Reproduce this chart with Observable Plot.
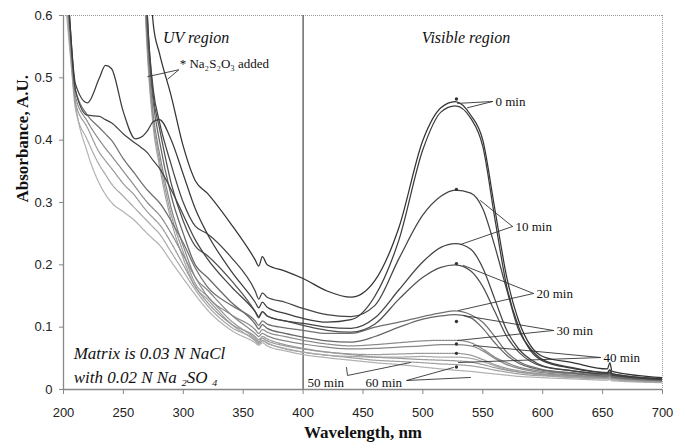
<!DOCTYPE html>
<html><head><meta charset="utf-8">
<script src="https://cdn.jsdelivr.net/npm/d3@7"></script>
<script src="https://cdn.jsdelivr.net/npm/@observablehq/plot@0.6"></script>
<style>body{margin:0;background:#fff}</style>
</head><body><div id="chart"></div>
<script>
const wavelengths = [200,205,210,220,230,235,240,250,260,265,270,275,280,290,300,310,320,340,360,363,366,370,385,400,420,440,460,480,500,515,527,540,550,560,570,580,590,600,625,654,656,658,700];
const N9 = [null,null,null,null,null,null,null,null,null];
// T = with Na2S2O3 added, P = without
const T0  = [...N9, null,.72,.585,.54,.47,.39,.335,.315,.265,.208,.198,.213,.2,.19,.178,.158,.148,.175,.26,.40,.452,.462,.44,.40,.29,.18,.11,.07,.053,.043,.033,.043,.029,.019];
const P0  = [.78,.60,.49,.46,.50,.52,.515,.445,.402,.405,.415,.43,.433,.40,.345,.29,.25,.19,.14,.131,.14,.132,.122,.114,.108,.112,.15,.24,.385,.445,.455,.435,.39,.275,.165,.10,.062,.046,.034,.027,.031,.025,.017];
const T10 = [...N9, .9,.6,.48,.43,.36,.30,.262,.25,.212,.158,.145,.155,.148,.14,.13,.12,.117,.135,.21,.28,.31,.32,.315,.29,.23,.16,.095,.065,.048,.035,.027,.032,.025,.017];
const P10 = [.76,.60,.48,.44,.438,.433,.428,.41,.395,.388,.38,.367,.355,.32,.28,.24,.21,.165,.125,.117,.125,.118,.11,.106,.10,.098,.115,.16,.205,.228,.234,.225,.195,.145,.095,.065,.048,.038,.03,.025,.027,.023,.016];
const T20 = [...N9, .88,.6,.47,.42,.33,.27,.23,.215,.175,.125,.115,.125,.118,.11,.103,.095,.092,.105,.145,.18,.196,.2,.19,.165,.125,.085,.06,.045,.037,.03,.025,.028,.023,.016];
const P20 = [.74,.59,.48,.44,.42,.41,.40,.37,.345,.332,.32,.31,.30,.27,.235,.195,.165,.135,.11,.103,.11,.105,.099,.095,.09,.09,.10,.108,.117,.123,.126,.12,.108,.085,.06,.045,.037,.032,.027,.023,.025,.021,.015];
const T30 = [...N9, .85,.58,.46,.40,.31,.25,.20,.18,.14,.105,.097,.104,.098,.09,.084,.078,.076,.085,.10,.113,.118,.12,.115,.098,.075,.055,.042,.035,.031,.026,.022,.024,.02,.015];
const P30 = [.72,.58,.47,.43,.40,.387,.375,.35,.325,.312,.30,.29,.28,.25,.215,.18,.15,.12,.096,.09,.096,.092,.085,.079,.073,.07,.072,.075,.078,.079,.079,.075,.065,.052,.043,.036,.032,.029,.025,.021,.023,.02,.014];
const T40 = [...N9, .8,.56,.44,.38,.29,.23,.18,.16,.12,.09,.085,.09,.086,.078,.073,.068,.065,.066,.068,.07,.072,.072,.07,.062,.05,.04,.034,.03,.027,.023,.02,.022,.019,.014];
const P40 = [.70,.57,.46,.42,.38,.367,.355,.33,.31,.297,.285,.275,.265,.235,.20,.165,.14,.105,.085,.08,.085,.081,.072,.066,.06,.056,.052,.05,.048,.047,.046,.044,.04,.035,.031,.028,.026,.024,.021,.019,.02,.018,.013];
const T50 = [...N9, .78,.55,.43,.37,.28,.22,.17,.15,.11,.082,.077,.082,.078,.07,.065,.06,.057,.056,.057,.058,.058,.058,.055,.048,.04,.034,.03,.027,.025,.022,.019,.021,.018,.013];
const P50 = [.68,.56,.45,.40,.36,.345,.33,.31,.29,.28,.27,.26,.25,.22,.19,.16,.135,.10,.08,.075,.079,.075,.065,.06,.055,.053,.052,.052,.053,.052,.052,.05,.045,.038,.032,.028,.025,.023,.02,.018,.019,.017,.012];
const T60 = [...N9, .75,.54,.42,.36,.27,.21,.165,.145,.105,.078,.073,.078,.074,.066,.06,.055,.051,.047,.045,.043,.041,.04,.038,.035,.031,.028,.025,.023,.022,.019,.017,.018,.016,.012];
const P60 = [.66,.55,.46,.38,.33,.313,.30,.285,.27,.26,.25,.241,.232,.205,.178,.152,.128,.095,.075,.071,.075,.07,.062,.056,.051,.047,.043,.04,.036,.033,.031,.029,.027,.025,.023,.021,.02,.019,.017,.015,.016,.014,.011];

const seriesNames  = ["P60","T60","P50","T50","P40","T40","P30","T30","P20","T20","P10","T10","P0","T0"];
const seriesValues = [P60,T60,P50,T50,P40,T40,P30,T30,P20,T20,P10,T10,P0,T0];
const seriesStroke = ["#b0b0b0","#a0a0a0","#a8a8a8","#999","#999","#888","#8a8a8a","#666","#707070","#505050","#444","#444","#3c3c3c","#333"];
const seriesDash   = ["1.5,1","2,1","1.5,1","2,1","2,1","none","2,1","none","none","none","none","none","none","none"];

const xTicks = [200,250,300,350,400,450,500,550,600,650,700];
const yTicks = [0,0.1,0.2,0.3,0.4,0.5,0.6];

// asterisks marking samples with Na2S2O3 added
const starX = [528,528,528,528,528,528,528];
const starY = [0.466,0.321,0.202,0.109,0.073,0.058,0.036];

// time labels and their leader lines
const timeLabels = ["0 min","10 min","20 min","30 min","40 min","50 min","60 min"];
const labelX = [560.6,577.3,594.8,611.5,650.8,403.7,452.1];
const labelY = [0.461,0.2615,0.154,0.0947,0.0513,0.0112,0.0112];
const leaderGroup = ["0","0","10","10","20","20","30","30","40","40","50","50","50","60","60","60","60","s","s","s","s"];
const leaderX = [558.1,528.9, 574.8,548.1, 592.3,533.9, 609,533.9, 648.2,542.2, 436.2,437.1,489.6, 525.5,486.3,486.3,539.7, 270.4,296.3,296.3,287];
const leaderY = [0.462,0.459, 0.2615,0.303, 0.154,0.199, 0.0947,0.1187, 0.0513,0.0706, 0.0353,0.0225,0.0433, 0.0353,0.0144,0.0144,0.0193, 0.502,0.513,0.513,0.498];
// second arm of two-armed leaders
const armGroup = ["0","0","10","10","20","20","30","30","40","40"];
const armX = [558.1,537.2, 574.8,531.4, 592.3,529.7, 609,528.9, 648.2,529.7];
const armY = [0.462,0.452, 0.2615,0.2326, 0.154,0.1267, 0.0947,0.0786, 0.0513,0.0433];

const rows = [];
seriesNames.forEach((s,i) => seriesValues[i].forEach((v,j) => rows.push({series:s, wl:wavelengths[j], abs:v})));
const leaders = leaderGroup.map((g,i) => ({g, x:leaderX[i], y:leaderY[i]}));
const arms = armGroup.map((g,i) => ({g, x:armX[i], y:armY[i]}));
const labels = timeLabels.map((t,i) => ({t, x:labelX[i], y:labelY[i]}));
const stars = starX.map((x,i) => ({x, y:starY[i]}));

const serif = "'Liberation Serif','Times New Roman',serif";
const lineMarks = seriesNames.map((s,i) => Plot.line(rows.filter(r => r.series === s), {
  x:"wl", y:"abs", stroke:seriesStroke[i], strokeWidth:1.25, strokeDasharray:seriesDash[i], curve:"monotone-x", clip:true
}));

const chart = Plot.plot({
  width:685, height:448, marginLeft:63, marginRight:23, marginTop:15, marginBottom:59,
  x:{domain:[200,700]}, y:{domain:[0,0.6]},
  style:{fontFamily:"'Liberation Sans',Arial,sans-serif", fontSize:"13px", color:"#222", background:"#fff"},
  marks:[
    Plot.ruleY([0.6], {stroke:"#999", strokeDasharray:"1,1"}),
    Plot.ruleX([700], {stroke:"#999", strokeDasharray:"1,1"}),
    Plot.ruleX([400], {stroke:"#555", strokeWidth:1.3}),
    ...lineMarks,
    Plot.ruleX([200], {stroke:"#888", strokeWidth:1.3}),
    Plot.ruleY([0], {stroke:"#888", strokeWidth:1.3}),
    Plot.axisX({ticks:xTicks, tickSize:5, tickPadding:13, label:null, stroke:"#888", fill:"#222", tickFormat:d=>String(d)}),
    Plot.axisY({ticks:yTicks, tickSize:4, tickPadding:7, label:null, stroke:"#888", fill:"#222", tickFormat:d => d===0 ? "0" : d3.format(".1f")(d)}),
    Plot.line(leaders, {x:"x", y:"y", z:"g", stroke:"#333", strokeWidth:0.9}),
    Plot.line(arms, {x:"x", y:"y", z:"g", stroke:"#333", strokeWidth:0.9}),
    Plot.dot(stars, {x:"x", y:"y", r:1.7, fill:"#333"}),
    Plot.text(labels, {x:"x", y:"y", text:"t", textAnchor:"start", fontFamily:serif, fontSize:13, fill:"#111"}),
    Plot.text(["UV region"], {x:[283], y:[0.564], textAnchor:"start", fontFamily:serif, fontStyle:"italic", fontSize:16, fill:"#111"}),
    Plot.text(["Visible region"], {x:[536], y:[0.564], textAnchor:"middle", fontFamily:serif, fontStyle:"italic", fontSize:16, fill:"#111"}),
    Plot.text(["* Na₂S₂O₃ added"], {x:[297], y:[0.522], textAnchor:"start", fontFamily:serif, fontSize:13, fill:"#111"}),
    Plot.text(["Matrix is 0.03 N NaCl"], {x:[208.5], y:[0.058], textAnchor:"start", fontFamily:serif, fontStyle:"italic", fontSize:17, fill:"#111"}),
    Plot.text(["with 0.02 N Na ₂SO ₄"], {x:[208.5], y:[0.019], textAnchor:"start", fontFamily:serif, fontStyle:"italic", fontSize:17, fill:"#111"}),
    Plot.text(["Absorbance, A.U."], {frameAnchor:"left", dx:-41, rotate:-90, fontFamily:serif, fontWeight:"bold", fontSize:17, fill:"#111"}),
    Plot.text(["Wavelength, nm"], {frameAnchor:"bottom", dy:48, fontFamily:serif, fontWeight:"bold", fontSize:17, fill:"#111"})
  ]
});
document.getElementById("chart").append(chart);
</script>
</body></html>
